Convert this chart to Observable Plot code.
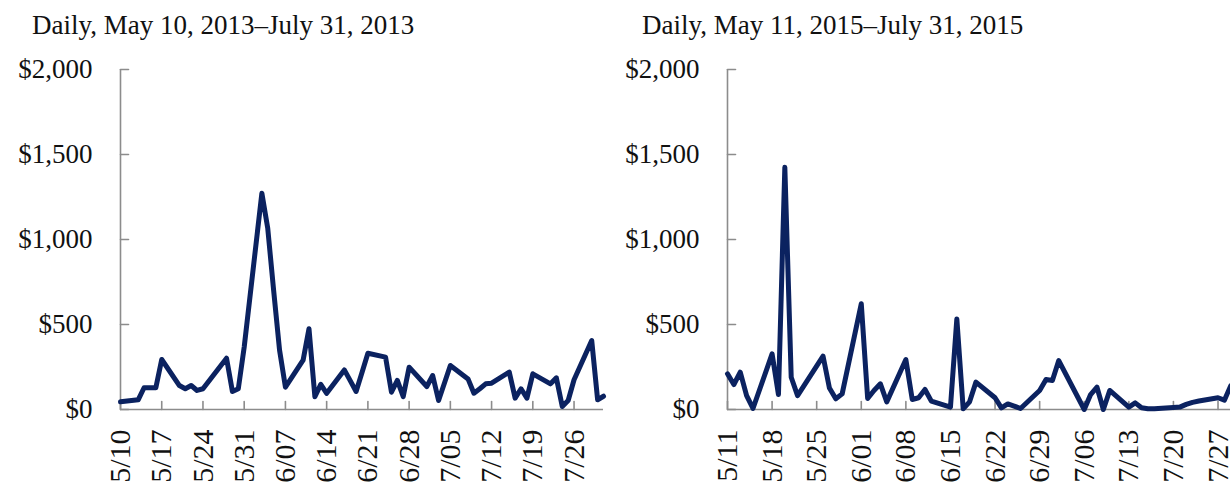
<!DOCTYPE html>
<html>
<head>
<meta charset="utf-8">
<script src="https://cdn.jsdelivr.net/npm/d3@7"></script>
<script src="https://cdn.jsdelivr.net/npm/@observablehq/plot@0.6"></script>
<style>
  html, body { margin: 0; padding: 0; background: #fff; }
  #wrap { position: relative; width: 1230px; height: 483px; overflow: hidden; }
  .title { position: absolute; top: 12px; font-family: "Liberation Serif", serif; font-size: 27px; line-height: 27px; color: #111; white-space: nowrap; }
  .panel { position: absolute; top: 45px; }
  .panel svg { overflow: visible; max-width: none !important; }
</style>
</head>
<body>
<div id="wrap">
  <div class="title" id="t1" style="left:32px"></div>
  <div class="title" id="t2" style="left:642px"></div>
  <div class="panel" id="p1" style="left:0px; width:610px"></div>
  <div class="panel" id="p2" style="left:610px; width:640px"></div>
</div>
<script>
// ---- Data ----
const title2013 = "Daily, May 10, 2013–July 31, 2013";
const title2015 = "Daily, May 11, 2015–July 31, 2015";

const dates2013 = ["2013-05-10","2013-05-13","2013-05-14","2013-05-15","2013-05-16","2013-05-17",
  "2013-05-20","2013-05-21","2013-05-22","2013-05-23","2013-05-24","2013-05-28","2013-05-29","2013-05-30","2013-05-31",
  "2013-06-03","2013-06-04","2013-06-05","2013-06-06","2013-06-07","2013-06-10","2013-06-11","2013-06-12","2013-06-13","2013-06-14",
  "2013-06-17","2013-06-18","2013-06-19","2013-06-20","2013-06-21","2013-06-24","2013-06-25","2013-06-26","2013-06-27","2013-06-28",
  "2013-07-01","2013-07-02","2013-07-03","2013-07-05","2013-07-08","2013-07-09","2013-07-10","2013-07-11","2013-07-12",
  "2013-07-15","2013-07-16","2013-07-17","2013-07-18","2013-07-19","2013-07-22","2013-07-23","2013-07-24","2013-07-25","2013-07-26",
  "2013-07-29","2013-07-30","2013-07-31"];
const values2013 = [45,57,128,128,128,294,
  141,122,141,112,122,302,106,122,367,
  1272,1065,700,350,131,290,475,75,148,95,
  233,170,106,218,331,308,102,171,76,249,
  135,200,53,259,180,96,122,151,155,
  220,67,122,67,210,151,186,18,53,175,
  406,57,78];

const dates2015 = ["2015-05-11","2015-05-12","2015-05-13","2015-05-14","2015-05-15",
  "2015-05-18","2015-05-19","2015-05-20","2015-05-21","2015-05-22","2015-05-26","2015-05-27","2015-05-28","2015-05-29",
  "2015-06-01","2015-06-02","2015-06-03","2015-06-04","2015-06-05","2015-06-08","2015-06-09","2015-06-10","2015-06-11","2015-06-12",
  "2015-06-15","2015-06-16","2015-06-17","2015-06-18","2015-06-19","2015-06-22","2015-06-23","2015-06-24","2015-06-25","2015-06-26",
  "2015-06-29","2015-06-30","2015-07-01","2015-07-02","2015-07-06","2015-07-07","2015-07-08","2015-07-09","2015-07-10",
  "2015-07-13","2015-07-14","2015-07-15","2015-07-16","2015-07-17","2015-07-20","2015-07-21","2015-07-22","2015-07-23","2015-07-24",
  "2015-07-27","2015-07-28","2015-07-29","2015-07-30","2015-07-31"];
const values2015 = [210,147,220,82,6,
  327,88,1425,190,82,314,127,63,92,
  622,65,112,151,45,294,59,69,118,49,
  14,533,4,45,161,69,10,33,20,6,
  112,176,171,288,0,88,131,0,112,
  14,39,10,4,4,12,14,30,42,50,
  69,55,140,100,80];

const xTicks2013 = ["2013-05-10","2013-05-17","2013-05-24","2013-05-31","2013-06-07","2013-06-14","2013-06-21","2013-06-28","2013-07-05","2013-07-12","2013-07-19","2013-07-26"];
const xTicks2015 = ["2015-05-11","2015-05-18","2015-05-25","2015-06-01","2015-06-08","2015-06-15","2015-06-22","2015-06-29","2015-07-06","2015-07-13","2015-07-20","2015-07-27"];
const yTicks = [0, 500, 1000, 1500, 2000];

// ---- Drawing ----
const navy = "#0b2260";
const gray = "#8c8c8c";
const parse = d3.utcParse("%Y-%m-%d");
const fmtX = d3.utcFormat("%-m/%d");
const fmtY = d => "$" + d3.format(",")(d);
const tickShape = { draw(ctx, l) { ctx.moveTo(0, 0); ctx.lineTo(0, -l); } };

function panel(dates, values, ticks, start, end, width, marginLeft) {
  const data = dates.map((d, i) => ({date: parse(d), value: values[i]}));
  const xt = ticks.map(parse);
  const s = parse(start), e = parse(end);
  return Plot.plot({
    width, height: 438,
    marginLeft, marginRight: 7, marginTop: 24, marginBottom: 74,
    x: {type: "utc", domain: [s, e], label: null},
    y: {domain: [0, 2000], label: null},
    style: {fontFamily: "Liberation Serif, serif", fontSize: "27px", color: "#111", background: "transparent", overflow: "visible", maxWidth: "none"},
    marks: [
      Plot.axisY(yTicks, {tickSize: 0, tickPadding: 28, tickFormat: fmtY, fontSize: 27, label: null}),
      Plot.axisX(xt, {tickSize: 0, tickPadding: 20, tickRotate: -90, tickFormat: fmtX, fontSize: 30, label: null}),
      Plot.ruleX([s], {y1: 0, y2: 2000, stroke: gray, strokeWidth: 1.6}),
      Plot.ruleY([0], {stroke: gray, strokeWidth: 1.6}),
      Plot.vector(yTicks, {x: () => s, y: d => d, length: 8, rotate: 90, anchor: "start", shape: tickShape, stroke: gray, strokeWidth: 1.6}),
      Plot.vector(xt, {x: d => d, y: () => 0, length: 8, rotate: 0, anchor: "start", shape: tickShape, stroke: gray, strokeWidth: 1.6}),
      Plot.line(data, {x: "date", y: "value", stroke: navy, strokeWidth: 5, strokeLinejoin: "round", strokeLinecap: "round"})
    ]
  });
}

document.getElementById("t1").textContent = title2013;
document.getElementById("t2").textContent = title2015;
document.getElementById("p1").appendChild(panel(dates2013, values2013, xTicks2013, "2013-05-10", "2013-07-31", 610, 120));
document.getElementById("p2").appendChild(panel(dates2015, values2015, xTicks2015, "2015-05-11", "2015-07-31", 640, 117));
</script>
</body>
</html>
